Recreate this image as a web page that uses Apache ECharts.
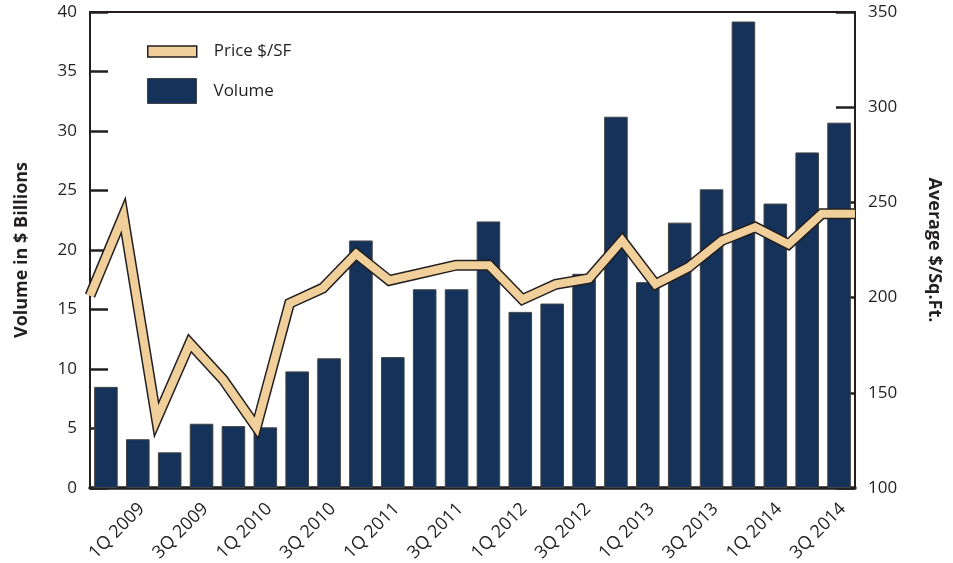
<!DOCTYPE html>
<html>
<head>
<meta charset="utf-8">
<script src="https://cdn.jsdelivr.net/npm/echarts@6/dist/echarts.min.js"></script>
<style>
  html, body { margin: 0; padding: 0; background: #fff; }
  #chart { width: 953px; height: 563px; }
</style>
</head>
<body>
<div id="chart"></div>
<script>
// quarters shown on the x axis
const quarters = [
  '1Q 2009', '2Q 2009', '3Q 2009', '4Q 2009',
  '1Q 2010', '2Q 2010', '3Q 2010', '4Q 2010',
  '1Q 2011', '2Q 2011', '3Q 2011', '4Q 2011',
  '1Q 2012', '2Q 2012', '3Q 2012', '4Q 2012',
  '1Q 2013', '2Q 2013', '3Q 2013', '4Q 2013',
  '1Q 2014', '2Q 2014', '3Q 2014', '4Q 2014'
];
// volume in $ billions (bars, left axis)
const volume = [
  8.5, 4.1, 3.0, 5.4, 5.2, 5.1, 9.8, 10.9,
  20.8, 11.0, 16.7, 16.7, 22.4, 14.8, 15.5, 18.0,
  31.2, 17.3, 22.3, 25.1, 39.2, 23.9, 28.2, 30.7
];
// average price $/sq.ft. (line, right axis)
const price = [
  201, 243, 136, 176, 157, 132, 197, 205,
  223, 209, 213, 217, 217, 199, 207, 210,
  230, 207, 216, 230, 237, 228, 244, 244
];

const ink = '#231F20';
const navy = '#15325A';
const tan = '#F0CF9A';
const font = '"Open Sans", "Noto Sans", sans-serif';

let chart = echarts.init(document.getElementById('chart'));

chart.setOption({
  animation: false,
  textStyle: { fontFamily: font, color: ink },
  grid: {
    left: 90, right: 98, top: 12, bottom: 75,
    outerBoundsMode: 'none',
    containLabel: false,
    show: true, borderColor: ink, borderWidth: 2
  },
  legend: [
    {
      data: [{
        name: 'Price $/SF',
        itemStyle: { color: tan, borderColor: ink, borderWidth: 1.5 }
      }],
      icon: 'rect',
      left: 147, top: 43, padding: 0,
      itemWidth: 49, itemHeight: 11,
      textStyle: { fontSize: 17, color: ink, fontFamily: font, padding: [2, 0, 0, 12] }
    },
    {
      data: [{
        name: 'Volume',
        itemStyle: { color: navy, borderColor: '#444', borderWidth: 1 }
      }],
      icon: 'rect',
      left: 147, top: 78, padding: 0,
      itemWidth: 49, itemHeight: 25,
      textStyle: { fontSize: 17, color: ink, fontFamily: font, padding: [6, 0, 0, 12] }
    }
  ],
  xAxis: [
    {
      type: 'category',
      data: quarters,
      boundaryGap: true,
      axisLine: { lineStyle: { color: ink, width: 3.5 } },
      axisTick: { inside: true, length: 10, interval: 0, lineStyle: { color: ink, width: 4 } },
      axisLabel: {
        interval: 1,
        rotate: 45,
        align: 'center',
        verticalAlign: 'top',
        lineHeight: 31,
        margin: 32,
        fontSize: 18,
        color: ink,
        fontFamily: font
      },
      splitLine: { show: false }
    },
    {
      // line points span the full plot width
      type: 'category',
      data: quarters,
      boundaryGap: false,
      show: false
    }
  ],
  yAxis: [
    {
      type: 'value',
      min: 0, max: 40, interval: 5,
      name: 'Volume in $ Billions',
      nameLocation: 'middle',
      nameGap: 59,
      nameTextStyle: { fontSize: 18, fontWeight: 'bold', color: ink, fontFamily: font },
      axisLine: { show: true, lineStyle: { color: ink, width: 2 } },
      axisTick: { show: true, inside: true, length: 18, lineStyle: { color: ink, width: 2.5 } },
      axisLabel: { fontSize: 17, margin: 13, color: ink, fontFamily: font },
      splitLine: { show: false }
    },
    {
      type: 'value',
      min: 100, max: 350, interval: 50,
      position: 'right',
      name: 'Average $/Sq.Ft.',
      nameLocation: 'middle',
      nameRotate: -90,
      nameGap: 70,
      nameTextStyle: { fontSize: 18, fontWeight: 'bold', color: ink, fontFamily: font },
      axisLine: { show: true, lineStyle: { color: ink, width: 2 } },
      axisTick: { show: true, inside: true, length: 19, lineStyle: { color: ink, width: 2.5 } },
      axisLabel: { fontSize: 17, margin: 13, color: ink, fontFamily: font },
      splitLine: { show: false }
    }
  ],
  series: [
    {
      name: 'Volume',
      type: 'bar',
      data: volume,
      barWidth: '74%',
      itemStyle: { color: navy, borderColor: '#444', borderWidth: 1 }
    },
    {
      // dark outline under the price band
      name: 'price-outline',
      type: 'line',
      xAxisIndex: 1,
      yAxisIndex: 1,
      data: price,
      symbol: 'none',
      silent: true,
      lineStyle: { color: ink, width: 11, join: 'miter', miterLimit: 10, cap: 'butt' }
    },
    {
      name: 'Price $/SF',
      type: 'line',
      xAxisIndex: 1,
      yAxisIndex: 1,
      data: price,
      symbol: 'none',
      lineStyle: { color: tan, width: 8, join: 'miter', miterLimit: 10, cap: 'butt' },
      itemStyle: { color: tan }
    }
  ]
});
</script>
</body>
</html>
